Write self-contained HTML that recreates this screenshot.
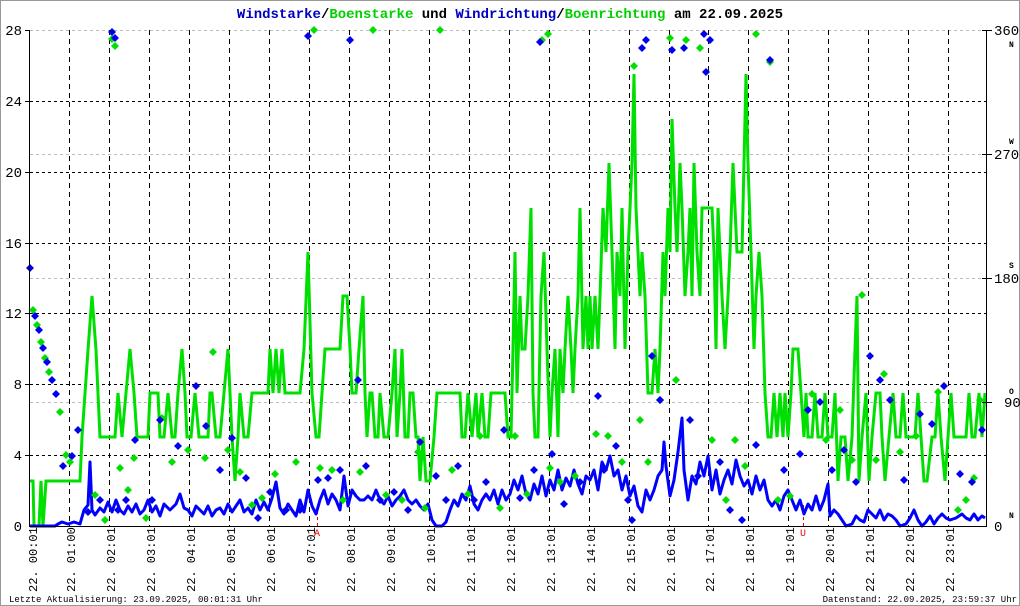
<!DOCTYPE html>
<html><head><meta charset="utf-8"><style>
html,body{margin:0;padding:0;background:#fff}
svg{display:block}
text{font-family:"Liberation Mono",monospace}
</style></head><body>
<svg width="1020" height="606" viewBox="0 0 1020 606" xmlns="http://www.w3.org/2000/svg">
<rect x="0.5" y="0.5" width="1019" height="605" fill="#fff" stroke="#999"/>
<defs>
<polygon id="d" points="0,-4 4,0 0,4 -4,0"/>
</defs>
<text x="510" y="18" text-anchor="middle" font-size="14" font-weight="bold" fill="#000080" xml:space="preserve"><tspan fill="#0000c0">Windstarke</tspan><tspan fill="#000">/</tspan><tspan fill="#00d000">Boenstarke</tspan><tspan fill="#000"> und </tspan><tspan fill="#0000c0">Windrichtung</tspan><tspan fill="#000">/</tspan><tspan fill="#00d000">Boenrichtung</tspan><tspan fill="#000"> am 22.09.2025</tspan></text>
<!-- grid -->
<g stroke="#bbb" stroke-dasharray="3,3" stroke-width="1">
<line x1="30" y1="30.5" x2="986" y2="30.5"/>
<line x1="30" y1="154.5" x2="986" y2="154.5"/>
<line x1="30" y1="278.5" x2="986" y2="278.5"/>
<line x1="30" y1="402.5" x2="986" y2="402.5"/>
</g>
<g stroke="#000" stroke-dasharray="3,3" stroke-width="1">
<line x1="30" y1="101.5" x2="986" y2="101.5"/>
<line x1="30" y1="172.5" x2="986" y2="172.5"/>
<line x1="30" y1="243.5" x2="986" y2="243.5"/>
<line x1="30" y1="313.5" x2="986" y2="313.5"/>
<line x1="30" y1="384.5" x2="986" y2="384.5"/>
<line x1="30" y1="455.5" x2="986" y2="455.5"/>
</g>
<g stroke="#000" stroke-dasharray="5,4" stroke-width="1">
<line x1="69.5" y1="30" x2="69.5" y2="526"/><line x1="109.5" y1="30" x2="109.5" y2="526"/><line x1="149.5" y1="30" x2="149.5" y2="526"/><line x1="189.5" y1="30" x2="189.5" y2="526"/><line x1="229.5" y1="30" x2="229.5" y2="526"/><line x1="269.5" y1="30" x2="269.5" y2="526"/><line x1="309.5" y1="30" x2="309.5" y2="526"/><line x1="349.5" y1="30" x2="349.5" y2="526"/><line x1="389.5" y1="30" x2="389.5" y2="526"/><line x1="429.5" y1="30" x2="429.5" y2="526"/><line x1="469.5" y1="30" x2="469.5" y2="526"/><line x1="509.5" y1="30" x2="509.5" y2="526"/><line x1="549.5" y1="30" x2="549.5" y2="526"/><line x1="589.5" y1="30" x2="589.5" y2="526"/><line x1="629.5" y1="30" x2="629.5" y2="526"/><line x1="669.5" y1="30" x2="669.5" y2="526"/><line x1="708.5" y1="30" x2="708.5" y2="526"/><line x1="748.5" y1="30" x2="748.5" y2="526"/><line x1="788.5" y1="30" x2="788.5" y2="526"/><line x1="828.5" y1="30" x2="828.5" y2="526"/><line x1="868.5" y1="30" x2="868.5" y2="526"/><line x1="908.5" y1="30" x2="908.5" y2="526"/><line x1="948.5" y1="30" x2="948.5" y2="526"/>
</g>
<!-- markers A/U -->
<line x1="317.5" y1="505" x2="317.5" y2="526" stroke="#e00" stroke-dasharray="3,3"/>
<line x1="803.5" y1="505" x2="803.5" y2="526" stroke="#e00" stroke-dasharray="3,3"/>
<text x="317" y="536" font-size="10" fill="#e00" text-anchor="middle">A</text>
<text x="803" y="536" font-size="10" fill="#e00" text-anchor="middle">U</text>
<!-- gust line -->
<polyline fill="none" stroke="#00e000" stroke-width="3" stroke-linejoin="miter" points="
30,481 33,481 34,526 39,526 41,481 43,526 46,481 80,481 82,437 88,350 92,296 96,350 100,437 115,437 118,393 122,437 126,393 130,349 134,393 137,437 148,437 150,393 158,393 160,437 164,437 168,393 172,437 175,437 178,393 182,349 185,393 187,437 191,437 195,393 199,437 208,437 210,393 212,393 216,437 220,437 224,393 228,349 232,437 235,481 238,437 240,393 244,437 248,437 252,393 255,393 268,393 270,349 273,393 276,349 279,393 282,349 285,393 300,393 304,349 308,252 312,393 316,437 319,437 322,393 325,349 340,349 343,296 347,296 350,349 352,393 356,393 359,349 363,296 365,393 367,437 370,393 372,393 375,437 378,437 380,393 384,437 388,437 392,393 395,349 397,437 400,393 402,349 405,437 408,437 410,393 413,393 416,437 418,437 420,481 423,437 426,481 430,481 434,437 437,393 460,393 462,437 465,437 468,393 472,437 476,393 478,437 482,393 485,437 488,437 491,393 495,393 505,393 508,437 511,437 513,349 515,252 517,393 520,296 522,349 525,349 528,296 531,208 533,393 535,437 538,437 541,296 544,252 547,349 550,437 552,393 555,349 558,437 560,349 563,393 565,349 568,296 571,349 573,393 575,349 578,296 580,208 583,349 586,296 588,349 590,296 592,349 595,296 598,349 600,296 603,208 606,252 609,163 612,252 615,349 617,252 620,296 622,208 625,349 628,252 630,208 632,163 634,74 636,208 638,252 640,296 642,252 645,296 648,393 652,393 655,349 658,393 660,349 663,252 665,296 668,208 670,252 672,119 675,208 677,252 680,163 682,208 685,296 688,252 690,208 692,296 694,163 697,252 700,296 702,208 712,208 714,252 716,349 718,208 720,252 722,296 725,349 728,296 730,252 733,163 735,208 737,252 742,252 744,163 746,74 748,163 751,252 754,349 756,296 759,252 762,296 765,393 768,437 771,437 774,393 777,437 780,393 783,437 785,393 788,437 791,393 793,349 798,349 801,393 804,437 806,393 808,437 812,437 815,393 818,437 822,437 825,393 828,437 832,437 835,393 838,481 841,437 845,437 848,481 852,437 855,349 857,296 859,481 862,437 866,393 869,481 872,437 876,393 880,393 882,437 885,481 889,437 893,393 896,437 900,437 903,393 906,437 915,437 918,393 921,437 924,481 927,481 932,437 935,437 938,393 941,437 945,481 948,437 951,393 954,437 958,437 962,437 966,437 969,393 972,437 975,437 979,393 982,437 985,393"/>
<!-- wind line -->
<polyline fill="none" stroke="#0000ff" stroke-width="3" stroke-linejoin="round" points="
30,526 55,526 58,524 62,522 68,524 74,522 80,524 84,510 88,505 90,462 92,510 95,515 100,508 104,512 108,502 112,512 116,500 120,510 124,514 128,506 132,512 136,504 140,514 144,510 148,500 152,512 156,506 160,516 164,504 170,510 176,504 180,494 184,508 188,510 192,516 196,506 200,510 204,514 208,506 212,516 216,510 220,508 224,514 228,504 232,512 236,506 240,500 244,512 248,508 252,514 256,500 260,510 264,502 268,510 272,498 276,482 280,508 284,514 288,504 292,510 296,516 300,500 304,512 308,490 312,506 316,514 320,500 324,490 328,504 332,494 336,500 340,510 344,476 348,506 352,490 356,496 360,500 364,500 368,496 372,500 376,490 380,500 384,504 388,496 392,506 396,500 400,496 404,490 408,500 412,504 416,500 420,506 424,510 428,504 432,520 436,526 442,526 446,522 450,510 454,500 458,506 462,494 466,500 470,486 474,504 478,510 482,500 486,494 490,500 494,490 498,504 502,490 506,500 510,494 514,480 518,490 522,476 526,494 530,500 534,484 538,494 542,476 546,496 550,480 554,490 558,470 562,490 566,478 570,486 574,470 578,484 582,494 586,476 590,480 594,470 598,490 602,462 606,470 610,456 614,476 618,470 622,490 626,476 630,496 634,486 638,506 642,512 646,490 650,500 654,490 658,476 662,470 664,442 666,466 670,496 674,480 678,452 682,418 684,470 688,500 692,476 696,484 700,462 704,476 708,456 712,490 716,470 720,494 724,480 728,470 732,484 736,460 740,476 744,486 748,480 752,494 756,476 760,490 764,480 768,500 772,506 776,500 780,510 784,496 788,490 792,500 796,510 800,500 804,514 808,504 812,510 816,496 820,510 824,500 828,484 830,516 834,510 838,514 842,520 846,526 852,524 856,516 860,520 864,522 868,510 872,514 876,518 880,510 884,520 888,514 892,516 896,520 900,526 906,524 910,518 914,510 918,520 922,526 926,522 930,516 934,524 938,518 942,514 946,518 950,520 956,518 962,514 966,518 970,520 974,514 978,520 982,516 985,518"/>
<!-- green direction points -->
<g fill="#00e000">
<use href="#d" x="33" y="310"/><use href="#d" x="37" y="325"/><use href="#d" x="41" y="342"/><use href="#d" x="45" y="358"/><use href="#d" x="49" y="372"/><use href="#d" x="60" y="412"/><use href="#d" x="66" y="455"/><use href="#d" x="70" y="462"/><use href="#d" x="95" y="495"/><use href="#d" x="105" y="520"/><use href="#d" x="112" y="39"/><use href="#d" x="115" y="46"/><use href="#d" x="120" y="468"/><use href="#d" x="128" y="490"/><use href="#d" x="134" y="458"/><use href="#d" x="146" y="518"/><use href="#d" x="162" y="418"/><use href="#d" x="172" y="462"/><use href="#d" x="188" y="450"/><use href="#d" x="205" y="458"/><use href="#d" x="213" y="352"/><use href="#d" x="228" y="450"/><use href="#d" x="240" y="472"/><use href="#d" x="252" y="505"/><use href="#d" x="262" y="498"/><use href="#d" x="275" y="474"/><use href="#d" x="296" y="462"/><use href="#d" x="314" y="30"/><use href="#d" x="320" y="468"/><use href="#d" x="332" y="470"/><use href="#d" x="343" y="500"/><use href="#d" x="360" y="472"/><use href="#d" x="373" y="30"/><use href="#d" x="386" y="495"/><use href="#d" x="402" y="500"/><use href="#d" x="418" y="452"/><use href="#d" x="425" y="508"/><use href="#d" x="440" y="30"/><use href="#d" x="452" y="470"/><use href="#d" x="468" y="494"/><use href="#d" x="480" y="436"/><use href="#d" x="500" y="508"/><use href="#d" x="515" y="436"/><use href="#d" x="527" y="494"/><use href="#d" x="542" y="40"/><use href="#d" x="548" y="34"/><use href="#d" x="550" y="468"/><use href="#d" x="560" y="482"/><use href="#d" x="575" y="476"/><use href="#d" x="596" y="434"/><use href="#d" x="608" y="436"/><use href="#d" x="622" y="462"/><use href="#d" x="634" y="66"/><use href="#d" x="640" y="420"/><use href="#d" x="648" y="462"/><use href="#d" x="660" y="400"/><use href="#d" x="670" y="38"/><use href="#d" x="676" y="380"/><use href="#d" x="686" y="40"/><use href="#d" x="700" y="48"/><use href="#d" x="712" y="440"/><use href="#d" x="726" y="500"/><use href="#d" x="735" y="440"/><use href="#d" x="745" y="466"/><use href="#d" x="756" y="34"/><use href="#d" x="770" y="62"/><use href="#d" x="778" y="500"/><use href="#d" x="790" y="496"/><use href="#d" x="812" y="394"/><use href="#d" x="826" y="440"/><use href="#d" x="840" y="410"/><use href="#d" x="852" y="460"/><use href="#d" x="862" y="295"/><use href="#d" x="876" y="460"/><use href="#d" x="884" y="374"/><use href="#d" x="900" y="452"/><use href="#d" x="916" y="436"/><use href="#d" x="938" y="392"/><use href="#d" x="958" y="510"/><use href="#d" x="966" y="500"/><use href="#d" x="974" y="478"/><use href="#d" x="980" y="400"/>
</g>
<!-- blue direction points -->
<g fill="#0000ee">
<use href="#d" x="30" y="268"/><use href="#d" x="35" y="316"/><use href="#d" x="39" y="330"/><use href="#d" x="43" y="348"/><use href="#d" x="47" y="362"/><use href="#d" x="52" y="380"/><use href="#d" x="56" y="394"/><use href="#d" x="63" y="466"/><use href="#d" x="72" y="456"/><use href="#d" x="78" y="430"/><use href="#d" x="88" y="512"/><use href="#d" x="100" y="500"/><use href="#d" x="112" y="32"/><use href="#d" x="115" y="38"/><use href="#d" x="118" y="510"/><use href="#d" x="126" y="500"/><use href="#d" x="135" y="440"/><use href="#d" x="152" y="500"/><use href="#d" x="160" y="420"/><use href="#d" x="178" y="446"/><use href="#d" x="196" y="386"/><use href="#d" x="206" y="426"/><use href="#d" x="220" y="470"/><use href="#d" x="232" y="438"/><use href="#d" x="246" y="478"/><use href="#d" x="258" y="518"/><use href="#d" x="270" y="492"/><use href="#d" x="286" y="510"/><use href="#d" x="300" y="510"/><use href="#d" x="308" y="36"/><use href="#d" x="318" y="480"/><use href="#d" x="328" y="478"/><use href="#d" x="340" y="470"/><use href="#d" x="350" y="40"/><use href="#d" x="358" y="380"/><use href="#d" x="366" y="466"/><use href="#d" x="380" y="500"/><use href="#d" x="394" y="492"/><use href="#d" x="408" y="510"/><use href="#d" x="420" y="442"/><use href="#d" x="436" y="476"/><use href="#d" x="446" y="500"/><use href="#d" x="458" y="466"/><use href="#d" x="474" y="500"/><use href="#d" x="486" y="482"/><use href="#d" x="504" y="430"/><use href="#d" x="520" y="498"/><use href="#d" x="534" y="470"/><use href="#d" x="540" y="42"/><use href="#d" x="552" y="454"/><use href="#d" x="564" y="504"/><use href="#d" x="580" y="482"/><use href="#d" x="598" y="396"/><use href="#d" x="604" y="470"/><use href="#d" x="616" y="446"/><use href="#d" x="628" y="500"/><use href="#d" x="632" y="520"/><use href="#d" x="642" y="48"/><use href="#d" x="646" y="40"/><use href="#d" x="652" y="356"/><use href="#d" x="660" y="400"/><use href="#d" x="672" y="50"/><use href="#d" x="684" y="48"/><use href="#d" x="690" y="420"/><use href="#d" x="698" y="476"/><use href="#d" x="704" y="34"/><use href="#d" x="706" y="72"/><use href="#d" x="710" y="40"/><use href="#d" x="720" y="462"/><use href="#d" x="730" y="510"/><use href="#d" x="742" y="520"/><use href="#d" x="756" y="445"/><use href="#d" x="770" y="60"/><use href="#d" x="784" y="470"/><use href="#d" x="800" y="454"/><use href="#d" x="808" y="410"/><use href="#d" x="820" y="402"/><use href="#d" x="832" y="470"/><use href="#d" x="844" y="450"/><use href="#d" x="856" y="482"/><use href="#d" x="870" y="356"/><use href="#d" x="880" y="380"/><use href="#d" x="890" y="400"/><use href="#d" x="904" y="480"/><use href="#d" x="920" y="414"/><use href="#d" x="932" y="424"/><use href="#d" x="944" y="386"/><use href="#d" x="960" y="474"/><use href="#d" x="972" y="482"/><use href="#d" x="982" y="430"/>
</g>
<!-- axes -->
<g stroke="#000" stroke-width="1">
<line x1="29.5" y1="30" x2="29.5" y2="527"/>
<line x1="986.5" y1="30" x2="986.5" y2="527"/>
<line x1="29" y1="526.5" x2="987" y2="526.5"/>
<line x1="25" y1="30.5" x2="30" y2="30.5"/><line x1="25" y1="101.5" x2="30" y2="101.5"/><line x1="25" y1="172.5" x2="30" y2="172.5"/><line x1="25" y1="243.5" x2="30" y2="243.5"/><line x1="25" y1="313.5" x2="30" y2="313.5"/><line x1="25" y1="384.5" x2="30" y2="384.5"/><line x1="25" y1="455.5" x2="30" y2="455.5"/>
<line x1="982" y1="30.5" x2="992" y2="30.5"/><line x1="982" y1="154.5" x2="992" y2="154.5"/><line x1="982" y1="278.5" x2="992" y2="278.5"/><line x1="982" y1="402.5" x2="992" y2="402.5"/>
</g>
<g font-family="Liberation Sans, sans-serif" font-size="14" fill="#000">
<text x="22" y="35" text-anchor="end" font-family="Liberation Sans,sans-serif">28</text>
<text x="22" y="106" text-anchor="end" font-family="Liberation Sans,sans-serif">24</text>
<text x="22" y="177" text-anchor="end" font-family="Liberation Sans,sans-serif">20</text>
<text x="22" y="248" text-anchor="end" font-family="Liberation Sans,sans-serif">16</text>
<text x="22" y="318" text-anchor="end" font-family="Liberation Sans,sans-serif">12</text>
<text x="22" y="389" text-anchor="end" font-family="Liberation Sans,sans-serif">8</text>
<text x="22" y="460" text-anchor="end" font-family="Liberation Sans,sans-serif">4</text>
<text x="22" y="531" text-anchor="end" font-family="Liberation Sans,sans-serif">0</text>
<text x="994" y="35" font-family="Liberation Sans,sans-serif">360</text>
<text x="994" y="159" font-family="Liberation Sans,sans-serif">270</text>
<text x="994" y="283" font-family="Liberation Sans,sans-serif">180</text>
<text x="1004" y="407" font-family="Liberation Sans,sans-serif">90</text>
<text x="994" y="531" font-family="Liberation Sans,sans-serif">0</text>
</g>
<g font-size="8" font-weight="bold" fill="#000">
<text x="1009" y="47">N</text><text x="1009" y="144">W</text><text x="1009" y="268">S</text><text x="1009" y="394">O</text><text x="1009" y="518">N</text>
</g>
<!-- x labels -->
<g font-size="12" fill="#000">
<text transform="translate(37,592) rotate(-90)">22. 00:01</text>
<text transform="translate(75,592) rotate(-90)">22. 01:00</text>
<text transform="translate(115,592) rotate(-90)">22. 02:01</text>
<text transform="translate(155,592) rotate(-90)">22. 03:01</text>
<text transform="translate(195,592) rotate(-90)">22. 04:01</text>
<text transform="translate(235,592) rotate(-90)">22. 05:01</text>
<text transform="translate(275,592) rotate(-90)">22. 06:01</text>
<text transform="translate(315,592) rotate(-90)">22. 07:01</text>
<text transform="translate(355,592) rotate(-90)">22. 08:01</text>
<text transform="translate(395,592) rotate(-90)">22. 09:01</text>
<text transform="translate(435,592) rotate(-90)">22. 10:01</text>
<text transform="translate(475,592) rotate(-90)">22. 11:01</text>
<text transform="translate(515,592) rotate(-90)">22. 12:01</text>
<text transform="translate(555,592) rotate(-90)">22. 13:01</text>
<text transform="translate(595,592) rotate(-90)">22. 14:01</text>
<text transform="translate(635,592) rotate(-90)">22. 15:01</text>
<text transform="translate(675,592) rotate(-90)">22. 16:01</text>
<text transform="translate(714,592) rotate(-90)">22. 17:01</text>
<text transform="translate(754,592) rotate(-90)">22. 18:01</text>
<text transform="translate(794,592) rotate(-90)">22. 19:01</text>
<text transform="translate(834,592) rotate(-90)">22. 20:01</text>
<text transform="translate(874,592) rotate(-90)">22. 21:01</text>
<text transform="translate(914,592) rotate(-90)">22. 22:01</text>
<text transform="translate(954,592) rotate(-90)">22. 23:01</text>
</g>
<text x="9" y="602" font-size="9" fill="#000">Letzte Aktualisierung: 23.09.2025, 00:01:31 Uhr</text>
<text x="1017" y="602" font-size="9" fill="#000" text-anchor="end">Datenstand: 22.09.2025, 23:59:37 Uhr</text>
</svg>
</body></html>
